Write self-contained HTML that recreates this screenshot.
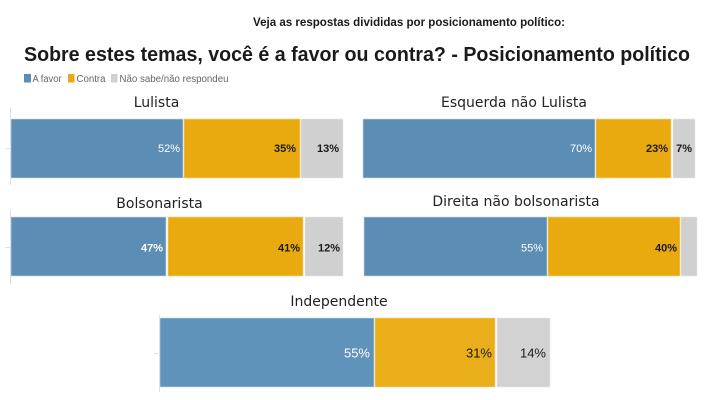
<!DOCTYPE html>
<html>
<head>
<meta charset="utf-8">
<style>
html,body{margin:0;padding:0;background:#fff;}
svg{display:block;}
</style>
</head>
<body>
<svg width="710" height="400" viewBox="0 0 710 400" xmlns="http://www.w3.org/2000/svg">
  <rect width="710" height="400" fill="#fff"/>
  <!-- header -->
  <text x="253" y="26" font-family="Liberation Sans, sans-serif" font-weight="bold" font-size="12" fill="#1a1a1a" textLength="312" lengthAdjust="spacingAndGlyphs">Veja as respostas divididas por posicionamento político:</text>
  <text x="24" y="61" font-family="Liberation Sans, sans-serif" font-weight="bold" font-size="20" fill="#1a1a1a" textLength="666" lengthAdjust="spacingAndGlyphs">Sobre estes temas, você é a favor ou contra? - Posicionamento político</text>

  <!-- legend -->
  <rect x="24" y="74" width="7" height="8.5" fill="#5b8db5"/>
  <text x="32.5" y="82" font-family="Liberation Sans, sans-serif" font-size="10" fill="#666" textLength="29" lengthAdjust="spacingAndGlyphs">A favor</text>
  <rect x="68" y="74" width="6.5" height="8.5" fill="#e9aa10"/>
  <text x="76.5" y="82" font-family="Liberation Sans, sans-serif" font-size="10" fill="#666" textLength="29" lengthAdjust="spacingAndGlyphs">Contra</text>
  <rect x="111" y="74" width="6.5" height="8.5" fill="#d0d0d0"/>
  <text x="119.5" y="82" font-family="Liberation Sans, sans-serif" font-size="10" fill="#666" textLength="109" lengthAdjust="spacingAndGlyphs">Não sabe/não respondeu</text>

  <g font-family="DejaVu Sans, sans-serif" font-size="14" fill="#222" text-anchor="middle">
    <text x="156.5" y="107">Lulista</text>
    <text x="514" y="107">Esquerda não Lulista</text>
    <text x="159.5" y="208">Bolsonarista</text>
    <text x="516" y="206">Direita não bolsonarista</text>
    <text x="339" y="306">Independente</text>
  </g>

  <!-- axes -->
  <g stroke="#e2e2e2" stroke-width="1">
    <line x1="10.5" y1="108" x2="10.5" y2="185"/>
    <line x1="5" y1="148.5" x2="10" y2="148.5"/>
    <line x1="10.5" y1="210" x2="10.5" y2="284"/>
    <line x1="5" y1="247.5" x2="10" y2="247.5"/>
    <line x1="159.5" y1="315" x2="159.5" y2="392"/>
    <line x1="154" y1="353.5" x2="159" y2="353.5"/>
  </g>

  <!-- Panel 1 Lulista -->
  <g>
    <rect x="11" y="119" width="172" height="59" fill="#5b8db5" stroke="#c9dbe8" stroke-width="0.6"/>
    <rect x="184" y="119" width="116" height="59" fill="#e9aa10" stroke="#f4d68a" stroke-width="0.6"/>
    <rect x="301" y="119" width="42" height="59" fill="#d0d0d0" stroke="#e6e6e6" stroke-width="0.6"/>
  </g>
  <!-- Panel 2 Esquerda -->
  <g>
    <rect x="363" y="119" width="232" height="59" fill="#5b8db5" stroke="#c9dbe8" stroke-width="0.6"/>
    <rect x="596" y="119" width="75" height="59" fill="#e9aa10" stroke="#f4d68a" stroke-width="0.6"/>
    <rect x="673" y="119" width="22" height="59" fill="#d0d0d0" stroke="#e6e6e6" stroke-width="0.6"/>
  </g>
  <!-- Panel 3 Bolsonarista -->
  <g>
    <rect x="11" y="217" width="155" height="59" fill="#5b8db5" stroke="#c9dbe8" stroke-width="0.6"/>
    <rect x="168" y="217" width="135" height="59" fill="#e9aa10" stroke="#f4d68a" stroke-width="0.6"/>
    <rect x="305" y="217" width="38" height="59" fill="#d0d0d0" stroke="#e6e6e6" stroke-width="0.6"/>
  </g>
  <!-- Panel 4 Direita -->
  <g>
    <rect x="364" y="217" width="183" height="59" fill="#5b8db5" stroke="#c9dbe8" stroke-width="0.6"/>
    <rect x="548" y="217" width="132" height="59" fill="#e9aa10" stroke="#f4d68a" stroke-width="0.6"/>
    <rect x="681" y="217" width="16" height="59" fill="#d0d0d0" stroke="#e6e6e6" stroke-width="0.6"/>
  </g>
  <!-- Panel 5 Independente -->
  <g>
    <rect x="160" y="318" width="214" height="69" fill="#6093ba" stroke="#c9dbe8" stroke-width="0.6"/>
    <rect x="375" y="318" width="120" height="69" fill="#eaae1a" stroke="#f4d68a" stroke-width="0.6"/>
    <rect x="497" y="318" width="53" height="69" fill="#d2d2d2" stroke="#e6e6e6" stroke-width="0.6"/>
  </g>

  <!-- labels -->
  <g font-family="Liberation Sans, sans-serif" font-size="11" text-anchor="end">
    <text x="180" y="152" fill="#fff">52%</text>
    <text x="296" y="152" fill="#1a1a1a" font-weight="bold">35%</text>
    <text x="339" y="152" fill="#1a1a1a" font-weight="bold">13%</text>

    <text x="592" y="152" fill="#fff">70%</text>
    <text x="668" y="152" fill="#1a1a1a" font-weight="bold">23%</text>
    <text x="692" y="152" fill="#1a1a1a" font-weight="bold">7%</text>

    <text x="163" y="251.5" fill="#fff" font-weight="bold">47%</text>
    <text x="300" y="251.5" fill="#1a1a1a" font-weight="bold">41%</text>
    <text x="340" y="251.5" fill="#1a1a1a" font-weight="bold">12%</text>

    <text x="543" y="251.5" fill="#fff">55%</text>
    <text x="677" y="251.5" fill="#1a1a1a" font-weight="bold">40%</text>
  </g>
  <g font-family="Liberation Sans, sans-serif" font-size="13" text-anchor="end">
    <text x="370" y="357.5" fill="#fff">55%</text>
    <text x="492" y="357.5" fill="#1a1a1a">31%</text>
    <text x="546" y="357.5" fill="#1a1a1a">14%</text>
  </g>
</svg>
</body>
</html>
